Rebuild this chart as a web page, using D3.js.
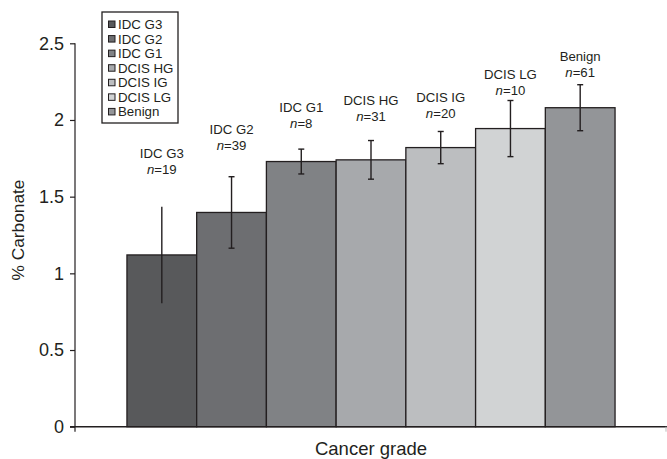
<!DOCTYPE html>
<html>
<head>
<meta charset="utf-8">
<script src="https://cdn.jsdelivr.net/npm/d3@7"></script>
<style>
  html, body { margin: 0; padding: 0; background: #fff; }
  svg { display: block; font-family: "Liberation Sans", Arial, Helvetica, sans-serif; }
</style>
</head>
<body>
<svg id="chart" width="667" height="459"></svg>
<script>
// ---- data ----
const categories = ["IDC G3", "IDC G2", "IDC G1", "DCIS HG", "DCIS IG", "DCIS LG", "Benign"];
const sampleSizes = [19, 39, 8, 31, 20, 10, 61];
const meanCarbonate = [1.12, 1.397, 1.729, 1.740, 1.820, 1.944, 2.080];
const errorCarbonate = [0.315, 0.233, 0.081, 0.126, 0.105, 0.183, 0.150];
const errorCapped = [false, true, true, true, true, true, true];
const labelLevel = [1.650, 1.807, 1.948, 1.992, 2.014, 2.161, 2.281];
const barColors = ["#58595b", "#6d6e71", "#808285", "#a7a9ac", "#bcbec0", "#d1d3d4", "#939598"];
const yTicks = [0, 0.5, 1, 1.5, 2, 2.5];
const yTickLabels = ["0", "0.5", "1", "1.5", "2", "2.5"];
const xTitle = "Cancer grade";
const yTitle = "% Carbonate";

(function () {
// ---- layout ----
const svg = d3.select("#chart");
const mLeft = 75, mRight = 667, mTop = 43.3, mBottom = 426.7;
const ink = "#231f20";

const x = d3.scaleBand().domain(categories).range([mLeft, mRight])
  .paddingInner(0).paddingOuter(0.745);
const y = d3.scaleLinear().domain([0, 2.5]).range([mBottom, mTop]);

const data = categories.map((c, i) => ({
  cat: c, n: sampleSizes[i], v: meanCarbonate[i], e: errorCarbonate[i],
  cap: errorCapped[i], lab: labelLevel[i], color: barColors[i]
}));

// bars
svg.append("g").selectAll("rect").data(data).enter().append("rect")
  .attr("x", d => x(d.cat))
  .attr("y", d => y(d.v))
  .attr("width", x.bandwidth())
  .attr("height", d => y(0) - y(d.v))
  .attr("fill", d => d.color)
  .attr("stroke", ink)
  .attr("stroke-width", 1.3);

// error bars
const eg = svg.append("g").attr("stroke", ink).attr("stroke-width", 1.4);
data.forEach(d => {
  const cx = x(d.cat) + x.bandwidth() / 2;
  eg.append("line").attr("x1", cx).attr("x2", cx)
    .attr("y1", y(d.v - d.e)).attr("y2", y(d.v + d.e));
  if (d.cap) {
    [d.v - d.e, d.v + d.e].forEach(val => {
      eg.append("line").attr("x1", cx - 3).attr("x2", cx + 3)
        .attr("y1", y(val)).attr("y2", y(val));
    });
  }
});

// bar labels
const lg = svg.append("g").attr("font-size", 13.2).attr("fill", ink).attr("text-anchor", "middle");
data.forEach(d => {
  const cx = x(d.cat) + x.bandwidth() / 2;
  const by = y(d.lab);
  lg.append("text").attr("x", cx).attr("y", by - 16).text(d.cat);
  const t = lg.append("text").attr("x", cx).attr("y", by);
  t.append("tspan").attr("font-style", "italic").text("n");
  t.append("tspan").text("=" + d.n);
});

// y axis
const yAxis = d3.axisLeft(y).tickValues(yTicks)
  .tickFormat((d, i) => yTickLabels[i]).tickSize(5).tickPadding(6);
const ya = svg.append("g").attr("transform", `translate(${mLeft},0)`).call(yAxis);
ya.select(".domain").attr("stroke", ink).attr("stroke-width", 1.2)
  .attr("d", `M0,${mTop}V${mBottom}`);
ya.selectAll(".tick line").attr("stroke", ink).attr("stroke-width", 1.2);
ya.selectAll(".tick text").attr("font-size", 18).attr("fill", ink)
  .attr("font-family", "Liberation Sans, Arial, sans-serif");

// x axis
const xa = svg.append("g");
xa.append("line").attr("x1", mLeft - 5).attr("x2", mRight).attr("y1", mBottom).attr("y2", mBottom)
  .attr("stroke", ink).attr("stroke-width", 1.4);
xa.append("line").attr("x1", mLeft).attr("x2", mLeft).attr("y1", mBottom).attr("y2", mBottom + 5)
  .attr("stroke", ink).attr("stroke-width", 1.2);
xa.append("line").attr("x1", mRight - 1).attr("x2", mRight - 1).attr("y1", mBottom).attr("y2", mBottom + 5)
  .attr("stroke", "#bbb").attr("stroke-width", 1);

// axis titles
svg.append("text").attr("x", (mLeft + mRight) / 2).attr("y", 455)
  .attr("text-anchor", "middle").attr("font-size", 18.5).attr("fill", ink).text(xTitle);
svg.append("text").attr("transform", `translate(24,230) rotate(-90)`)
  .attr("text-anchor", "middle").attr("font-size", 17.3).attr("fill", ink).text(yTitle);

// legend
const leg = svg.append("g");
leg.append("rect").attr("x", 102).attr("y", 12).attr("width", 76).attr("height", 111)
  .attr("fill", "#fff").attr("stroke", ink).attr("stroke-width", 1.3);
data.forEach((d, i) => {
  const cy = 24.3 + i * 14.57;
  leg.append("rect").attr("x", 108.5).attr("y", cy - 3.3).attr("width", 6.5).attr("height", 6.5)
    .attr("fill", d.color).attr("stroke", ink).attr("stroke-width", 1);
  leg.append("text").attr("x", 118).attr("y", cy + 4.7).attr("font-size", 13.3)
    .attr("fill", ink).text(d.cat);
});
})();
</script>
</body>
</html>
